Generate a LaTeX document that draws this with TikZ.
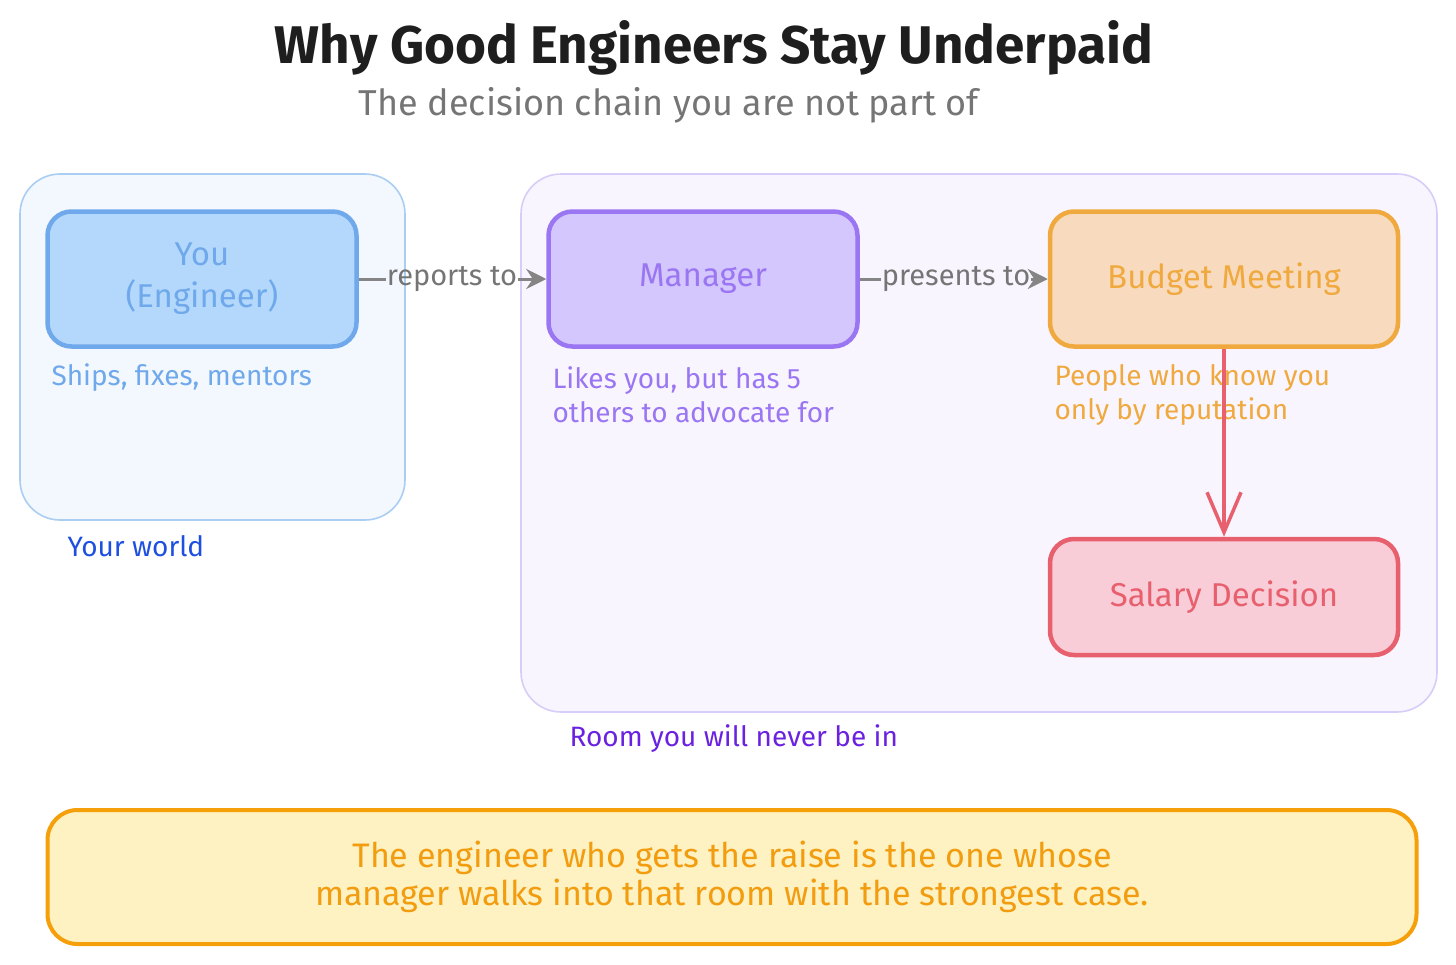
\documentclass[tikz,border=0pt]{standalone}
\usepackage{fontspec}
\setmainfont{Fira Sans}
\usepackage{tikz}
\usetikzlibrary{arrows.meta}

\definecolor{inkdark}{HTML}{1E1E1E}
\definecolor{inkgray}{HTML}{757575}
\definecolor{worldfill}{HTML}{F3F7FE}
\definecolor{worldline}{HTML}{AACDF2}
\definecolor{worldtext}{HTML}{1E4FE0}
\definecolor{youfill}{HTML}{B4D8FC}
\definecolor{youline}{HTML}{6FA9EB}
\definecolor{roomfill}{HTML}{F8F5FE}
\definecolor{roomline}{HTML}{D8CCF8}
\definecolor{roomtext}{HTML}{6A22E0}
\definecolor{mgrfill}{HTML}{D4C7FD}
\definecolor{mgrline}{HTML}{9B76F2}
\definecolor{budfill}{HTML}{F8DBBE}
\definecolor{budline}{HTML}{F0A93E}
\definecolor{salfill}{HTML}{F8CDD8}
\definecolor{salline}{HTML}{E8606E}
\definecolor{notefill}{HTML}{FFF2C2}
\definecolor{noteline}{HTML}{F59F0B}
\definecolor{notetext}{HTML}{F29C10}
\definecolor{flowgray}{HTML}{858585}

\tikzset{
  group/.style={rounded corners=40pt, line width=1.6pt},
  card/.style={rounded corners=24pt, line width=4.5pt, align=center,
    minimum width=309pt, minimum height=135pt,
    font=\fontsize{33}{42}\selectfont},
  remark/.style={anchor=west, align=left, font=\fontsize{28}{34}\selectfont},
  flow/.style={draw=flowgray, line width=3pt},
  flowlbl/.style={text=inkgray, inner sep=1pt, font=\fontsize{29}{32}\selectfont}
}

\begin{document}
\begin{tikzpicture}[x=1pt,y=-1pt]
\useasboundingbox (0,0) rectangle (1456,964);

% heading
\node[text=inkdark, font=\fontsize{53}{60}\selectfont\bfseries] (title) at (714,48) {Why Good Engineers Stay Underpaid};
\node[text=inkgray, font=\fontsize{36}{40}\selectfont] (subtitle) at (669,105) {The decision chain you are not part of};

% the two rooms
\draw[group, fill=worldfill, draw=worldline] (20,174) rectangle (405,520);
\draw[group, fill=roomfill, draw=roomline] (521,174) rectangle (1437,712);
\node[remark, text=worldtext] (worldlbl) at (64,546) {Your world};
\node[remark, text=roomtext] (roomlbl) at (566,739) {Room you will never be in};

% who decides
\path
 (202,279) node[card, fill=youfill, draw=youline, text=youline] (you) {You\\(Engineer)}
 (703,279) node[card, fill=mgrfill, draw=mgrline, text=mgrline] (mgr) {Manager}
 (1224,279) node[card, minimum width=348pt, fill=budfill, draw=budline, text=budline] (bud) {Budget Meeting}
 (1224,597) node[card, minimum width=348pt, minimum height=116pt, fill=salfill, draw=salline, text=salline] (sal) {Salary Decision}
;

\node[remark, text=youline] (younote) at (48,378) {Ships, fixes, mentors};
\node[remark, text=mgrline] (mgrnote) at (549,395) {Likes you, but has 5\\others to advocate for};
\node[remark, text=budline] (budnote) at (1051,395) {People who know you\\only by reputation};

% links
\node[flowlbl] (rep) at (452,279) {reports to};
\node[flowlbl] (pres) at (956,279) {presents to};
\draw[flow] (you.east) -- (rep.west);
\draw[flow, -{Stealth[length=20pt, width=20pt]}] (rep.east) -- (mgr.west);
\draw[flow] (mgr.east) -- (pres.west);
\draw[flow, -{Stealth[length=20pt, width=20pt]}] (pres.east) -- (bud.west);
\draw[draw=salline, line width=3.5pt, -{Straight Barb[length=40pt, width=34pt, line width=3.5pt]}] (bud.south) -- (sal.north);

% the point
\node[rounded corners=30pt, line width=4pt, fill=notefill, draw=noteline, text=notetext,
  minimum width=1369pt, minimum height=134pt, align=center,
  font=\fontsize{34}{38}\selectfont] (moral) at (732,877)
  {The engineer who gets the raise is the one whose\\manager walks into that room with the strongest case.};
\end{tikzpicture}
\end{document}
